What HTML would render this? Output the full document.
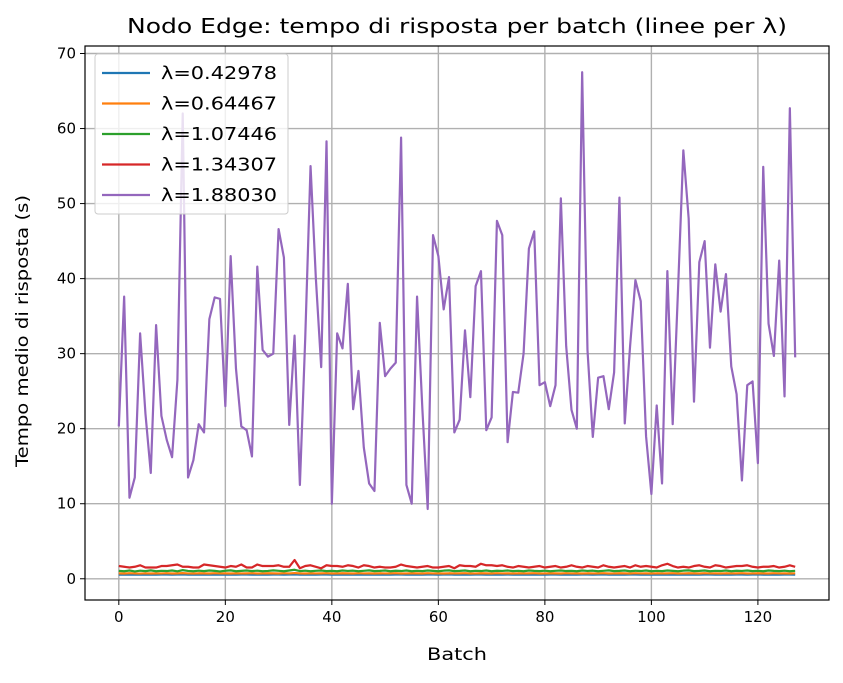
<!DOCTYPE html>
<html><head><meta charset="utf-8"><style>
body{margin:0;background:#fff;font-family:"Liberation Sans","DejaVu Sans",sans-serif}
svg text{font-family:"DejaVu Sans","Liberation Sans",sans-serif;fill:#000}
</style></head><body>
<svg id="chart" width="843" height="678" xmlns="http://www.w3.org/2000/svg"></svg>
<script>
const xTicks=[0,20,40,60,80,100,120];
const yTicks=[0,10,20,30,40,50,60,70];
const seriesLabels=["λ=0.42978","λ=0.64467","λ=1.07446","λ=1.34307","λ=1.88030"];
const seriesColors=["#1f77b4","#ff7f0e","#2ca02c","#d62728","#9467bd"];
const s1=[0.55,0.56,0.54,0.57,0.55,0.56,0.55,0.54,0.56,0.57,0.55,0.56,0.58,0.55,0.54,0.56,0.55,0.57,0.55,0.56,0.54,0.56,0.55,0.57,0.56,0.55,0.56,0.54,0.55,0.57,0.56,0.55,0.56,0.58,0.55,0.56,0.54,0.55,0.56,0.57,0.55,0.56,0.55,0.54,0.56,0.55,0.57,0.55,0.56,0.54,0.56,0.55,0.57,0.56,0.55,0.56,0.54,0.55,0.57,0.56,0.55,0.56,0.58,0.55,0.56,0.54,0.55,0.56,0.57,0.55,0.56,0.55,0.54,0.56,0.55,0.57,0.55,0.56,0.54,0.56,0.55,0.57,0.56,0.55,0.56,0.54,0.55,0.57,0.56,0.55,0.56,0.58,0.55,0.56,0.54,0.55,0.56,0.57,0.55,0.56,0.55,0.54,0.56,0.55,0.57,0.55,0.56,0.54,0.56,0.55,0.57,0.56,0.55,0.56,0.54,0.55,0.57,0.56,0.55,0.56,0.58,0.55,0.56,0.54,0.55,0.56,0.57,0.55];
const s2=[0.72,0.70,0.74,0.71,0.69,0.73,0.70,0.72,0.71,0.74,0.70,0.72,0.75,0.71,0.70,0.73,0.72,0.70,0.74,0.71,0.72,0.70,0.73,0.71,0.72,0.74,0.70,0.71,0.73,0.72,0.70,0.74,0.71,0.76,0.72,0.70,0.73,0.71,0.72,0.74,0.70,0.71,0.73,0.72,0.70,0.74,0.71,0.72,0.70,0.73,0.71,0.72,0.74,0.70,0.71,0.73,0.72,0.70,0.74,0.71,0.72,0.70,0.73,0.71,0.72,0.74,0.70,0.71,0.73,0.72,0.70,0.74,0.71,0.72,0.70,0.73,0.71,0.72,0.74,0.70,0.71,0.73,0.72,0.70,0.74,0.71,0.72,0.70,0.73,0.71,0.72,0.74,0.70,0.71,0.73,0.72,0.70,0.74,0.71,0.72,0.70,0.73,0.71,0.72,0.74,0.70,0.71,0.73,0.72,0.70,0.74,0.71,0.72,0.70,0.73,0.71,0.72,0.74,0.70,0.71,0.73,0.72,0.70,0.74,0.71,0.72,0.70,0.73];
const s3=[1.05,1.0,1.1,0.98,1.08,1.02,1.12,1.0,1.06,1.03,1.1,0.99,1.15,1.04,1.0,1.08,1.02,1.1,1.05,0.98,1.07,1.12,1.0,1.05,1.1,1.02,1.08,1.0,1.04,1.12,1.06,1.0,1.1,1.2,1.02,1.08,1.0,1.06,1.1,1.02,1.05,1.0,1.1,1.04,1.08,1.0,1.06,1.12,1.02,1.05,1.1,1.0,1.07,1.03,1.1,1.0,1.06,1.02,1.1,1.05,1.0,1.08,1.12,1.02,1.05,1.1,1.0,1.06,1.03,1.1,1.0,1.07,1.04,1.1,1.02,1.06,1.0,1.1,1.05,1.02,1.08,1.0,1.06,1.1,1.03,1.05,1.0,1.1,1.04,1.08,1.0,1.06,1.12,1.02,1.05,1.1,1.0,1.07,1.03,1.1,1.0,1.06,1.02,1.1,1.05,1.0,1.08,1.12,1.02,1.05,1.1,1.0,1.06,1.03,1.1,1.0,1.07,1.04,1.1,1.02,1.06,1.0,1.1,1.05,1.02,1.08,1.0,1.06];
const s4=[1.7,1.6,1.5,1.6,1.8,1.5,1.5,1.5,1.7,1.7,1.8,1.9,1.6,1.6,1.5,1.5,1.9,1.8,1.7,1.6,1.5,1.7,1.6,1.9,1.5,1.5,1.9,1.7,1.7,1.7,1.8,1.6,1.6,2.5,1.4,1.7,1.8,1.6,1.4,1.8,1.7,1.7,1.6,1.8,1.7,1.5,1.8,1.7,1.5,1.6,1.5,1.5,1.6,1.9,1.7,1.6,1.5,1.6,1.7,1.5,1.5,1.6,1.7,1.4,1.8,1.7,1.7,1.6,2.0,1.8,1.8,1.7,1.8,1.6,1.5,1.7,1.6,1.5,1.6,1.7,1.5,1.6,1.7,1.5,1.6,1.8,1.6,1.5,1.7,1.6,1.5,1.8,1.6,1.5,1.6,1.7,1.5,1.8,1.6,1.7,1.6,1.5,1.8,2.0,1.7,1.5,1.6,1.5,1.7,1.8,1.6,1.5,1.8,1.7,1.5,1.6,1.7,1.7,1.8,1.6,1.5,1.6,1.6,1.7,1.5,1.6,1.8,1.6];
const s5=[20.3,37.6,10.8,13.5,32.7,22,14.1,33.8,21.7,18.5,16.2,26.5,62,13.5,15.8,20.6,19.5,34.6,37.5,37.3,23,43,28,20.3,19.8,16.3,41.6,30.5,29.6,30,46.6,42.8,20.5,32.4,12.5,32,55,40,28.2,58.3,10,32.7,30.7,39.3,22.6,27.7,17.5,12.7,11.7,34.1,27,28,28.8,58.8,12.5,10,37.6,22.6,9.3,45.8,43,35.9,40.2,19.5,21.2,33.1,24.2,39,41,19.8,21.5,47.7,45.8,18.2,24.9,24.8,30,44,46.3,25.8,26.2,23,25.8,50.7,31,22.5,20,67.5,30.5,18.9,26.8,27,22.6,27.5,50.8,20.7,31,39.8,37,19,11.3,23.1,12.7,41,20.6,38.5,57.1,48,23.6,42.2,45,30.8,41.9,35.6,40.6,28.3,24.6,13.1,25.8,26.3,15.4,54.9,34,29.7,42.4,24.3,62.7,29.5];
const allSeries=[s1,s2,s3,s4,s5];

const L=85,T=46,R=829,B=600;
const xMin=-6.35,xMax=133.35,yMin=-2.83,yMax=71.0;
const X=v=>L+(v-xMin)/(xMax-xMin)*(R-L);
const Y=v=>B-(v-yMin)/(yMax-yMin)*(B-T);
const svg=document.getElementById('chart');
const NS='http://www.w3.org/2000/svg';
function mk(tag,attrs,parent){const e=document.createElementNS(NS,tag);for(const k in attrs)e.setAttribute(k,attrs[k]);(parent||svg).appendChild(e);return e;}

const grid=mk('g',{});


xTicks.forEach(t=>{
  const l=mk('line',{x1:X(t),x2:X(t),y1:T,y2:B,stroke:'#b0b0b0','stroke-width':1.4},grid);
  
  
  const tk=mk('line',{x1:X(t),x2:X(t),y1:B,y2:B+5,stroke:'#000','stroke-width':1});
  
  
  const tx=mk('text',{x:X(t),y:B+22,'text-anchor':'middle','font-size':15});
  tx.textContent=t;
  
  
});
yTicks.forEach(t=>{
  const l=mk('line',{x1:L,x2:R,y1:Y(t),y2:Y(t),stroke:'#b0b0b0','stroke-width':1.4},grid);
  
  
  const tk=mk('line',{x1:L-5,x2:L,y1:Y(t),y2:Y(t),stroke:'#000','stroke-width':1});
  
  
  const tx=mk('text',{x:L-9,y:Y(t)+5,'text-anchor':'end','font-size':15});
  tx.textContent=t;
  
  
});

allSeries.forEach((s,i)=>{
  const p=mk('polyline',{points:s.map((v,j)=>X(j)+','+Y(v)).join(' '),fill:'none',stroke:seriesColors[i],'stroke-width':2.2,'stroke-linejoin':'round'});
  
  
});

const frame=mk('rect',{x:L,y:T,width:R-L,height:B-T,fill:'none',stroke:'#000','stroke-width':1.2});



const lg=mk('g',{});


mk('rect',{x:95,y:54,width:193,height:160,rx:3,fill:'#fff','fill-opacity':0.8,stroke:'#ccc'},lg);
seriesLabels.forEach((lab,i)=>{
  const y=73+i*30.5;
  const ln=mk('line',{x1:102,x2:150,y1:y,y2:y,stroke:seriesColors[i],'stroke-width':2.2},lg);
  
  
  const tx=mk('text',{x:161,y:y+6,'font-size':18,textLength:116,lengthAdjust:'spacingAndGlyphs'},lg);
  tx.textContent=lab;
  
  
});

const title=mk('text',{x:(L+R)/2,y:33,'text-anchor':'middle','font-size':20,textLength:660,lengthAdjust:'spacingAndGlyphs'});
title.textContent='Nodo Edge: tempo di risposta per batch (linee per λ)';


const xl=mk('text',{x:(L+R)/2,y:660,'text-anchor':'middle','font-size':16.5,textLength:60,lengthAdjust:'spacingAndGlyphs'});
xl.textContent='Batch';


const yl=mk('text',{x:0,y:0,'text-anchor':'middle','font-size':16.5,textLength:272,lengthAdjust:'spacingAndGlyphs',transform:'translate(28,331) rotate(-90)'});
yl.textContent='Tempo medio di risposta (s)';


</script>
</body></html>
